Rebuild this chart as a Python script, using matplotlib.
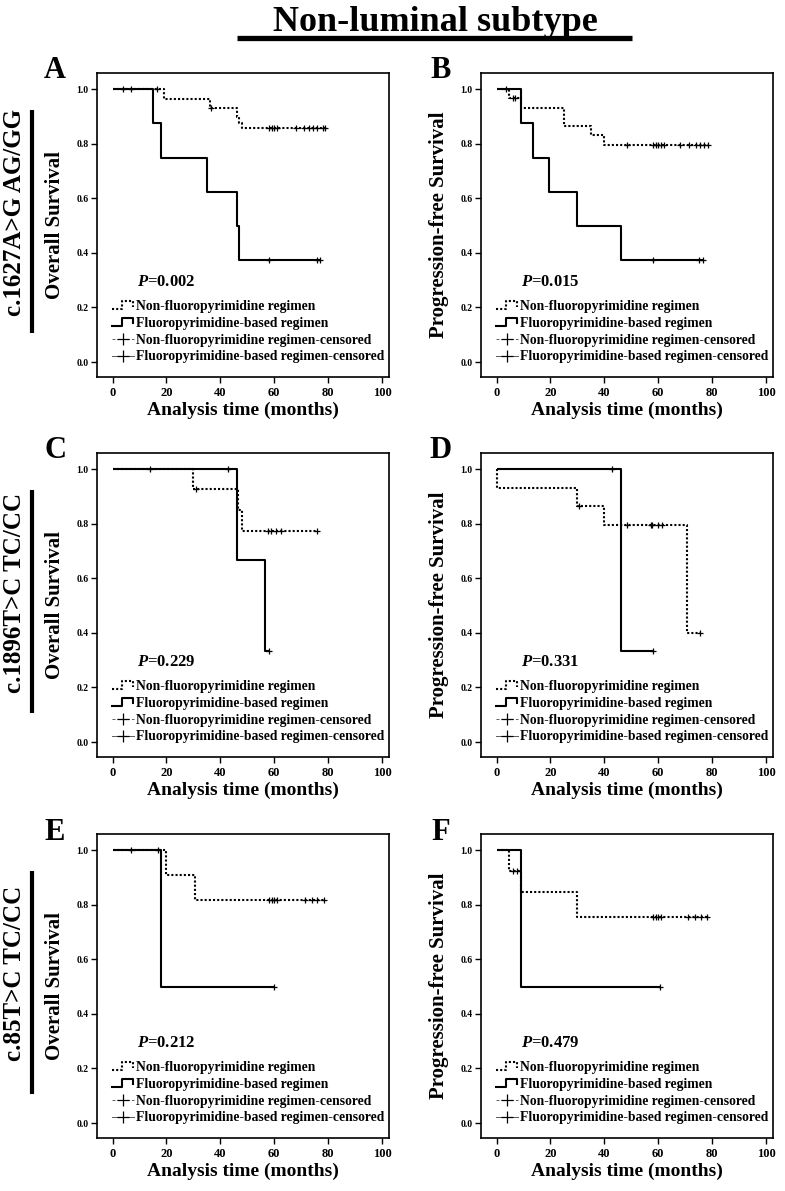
import matplotlib
matplotlib.use('Agg')
import matplotlib.pyplot as plt
from matplotlib.lines import Line2D
from matplotlib.legend_handler import HandlerBase

plt.rcParams['font.family'] = 'Liberation Serif'
plt.rcParams['font.weight'] = 'bold'
plt.rcParams['mathtext.fontset'] = 'custom'
plt.rcParams['mathtext.it'] = 'Liberation Serif:italic:bold'
plt.rcParams['mathtext.rm'] = 'Liberation Serif:bold'

# Textos
title = "Non-luminal subtype"
panel_letters = ["A", "B", "C", "D", "E", "F"]
snp_labels = ["c.1627A>G AG/GG", "c.1896T>C TC/CC", "c.85T>C TC/CC"]
y_labels = ["Overall Survival", "Progression-free Survival"]
x_label = "Analysis time (months)"
p_values = ["0.002", "0.015", "0.229", "0.331", "0.212", "0.479"]
legend_labels = ["Non-fluoropyrimidine regimen",
                 "Fluoropyrimidine-based regimen",
                 "Non-fluoropyrimidine regimen-censored",
                 "Fluoropyrimidine-based regimen-censored"]
x_ticks = [0, 20, 40, 60, 80, 100]
y_ticks = [0.0, 0.2, 0.4, 0.6, 0.8, 1.0]

# Non-fluoropyrimidine (punteada): tiempos de evento, supervivencia, fin, censuras
non_event_t = [
    [19, 36, 46, 47, 48],
    [4.5, 9, 25, 35, 40],
    [30, 46.5, 48],
    [0.3, 30, 40, 70.5],
    [20, 30.5],
    [4.5, 9, 30],
]
non_surv = [
    [0.966, 0.931, 0.897, 0.878, 0.857],
    [0.967, 0.933, 0.867, 0.833, 0.796],
    [0.929, 0.851, 0.774],
    [0.933, 0.867, 0.796, 0.398],
    [0.909, 0.818],
    [0.923, 0.846, 0.755],
]
non_end = [79, 78.5, 75.8, 75.5, 79, 78.5]
non_cens = [
    [16.5, 36.5, 58, 59, 60, 61, 68, 71, 73, 74.4, 76, 78, 79],
    [3.5, 6, 7, 48.5, 58, 59, 60, 61, 62, 68, 71.5, 74, 75.5, 77, 78.5],
    [31, 57.5, 58.8, 60.6, 62.5, 75.8],
    [30.7, 48.5, 57.3, 57.8, 60, 61.5, 75.5],
    [58, 59, 60, 61, 71.5, 74, 76, 78.5],
    [6, 7.5, 58, 59, 60, 61, 71, 73.7, 75.8, 78.2],
]

# Fluoropyrimidine-based (continua)
flu_event_t = [
    [15, 18, 35, 46, 47],
    [9, 13.5, 19.5, 30, 46],
    [46, 56.5],
    [46],
    [18],
    [9],
]
flu_surv = [
    [0.875, 0.75, 0.625, 0.5, 0.375],
    [0.875, 0.75, 0.625, 0.5, 0.375],
    [0.667, 0.333],
    [0.333],
    [0.5],
    [0.5],
]
flu_end = [77, 76.5, 58, 58, 60, 60.5]
flu_cens = [
    [4, 7, 58, 76, 77],
    [58, 75, 76.5],
    [14, 43, 58],
    [43, 58],
    [7, 17, 60],
    [60.5],
]

DOTS = (0, (1, 1))


def surv_at(t, times, surv):
    s = 1.0
    for ti, si in zip(times, surv):
        if ti <= t:
            s = si
    return s


def draw_km(ax, times, surv, end, cens, ls):
    xs = [0] + list(times) + [end]
    ys = [1.0] + list(surv) + [surv[-1]]
    ax.step(xs, ys, where='post', color='black', lw=1.5, linestyle=ls,
            solid_capstyle='butt', dash_capstyle='butt')
    cy = [surv_at(c, times, surv) for c in cens]
    ax.plot(cens, cy, linestyle='none', marker='+', ms=5, mew=0.9, color='black')


class HandlerStep(HandlerBase):
    def create_artists(self, legend, orig_handle, xdescent, ydescent,
                       width, height, fontsize, trans):
        x0, y0 = -xdescent, -ydescent
        xs = [x0, x0 + 0.45 * width, x0 + 0.45 * width, x0 + 0.95 * width, x0 + 0.95 * width]
        ys = [y0 + 0.1 * height, y0 + 0.1 * height, y0 + 0.9 * height, y0 + 0.9 * height, y0 + 0.35 * height]
        ln = Line2D(xs, ys)
        ln.update_from(orig_handle)
        ln.set_transform(trans)
        return [ln]


W, H = 785, 1191
fig = plt.figure(figsize=(W / 100, H / 100), dpi=100)

col_left = [97, 481]
row_top = [73, 453, 834]
aw, ah = 292, 304

# Titulo con subrayado
fig.text(435 / W, 1 - 31 / H, title, ha='center', va='baseline', fontsize=26, fontweight='bold')
fig.add_artist(Line2D([237 / W, 632 / W], [1 - 38 / H, 1 - 38 / H], color='black', lw=3.8,
                      transform=fig.transFigure, solid_capstyle='butt'))

for i in range(6):
    r, c = divmod(i, 2)
    left, top = col_left[c], row_top[r]
    ax = fig.add_axes([left / W, 1 - (top + ah) / H, aw / W, ah / H])

    draw_km(ax, non_event_t[i], non_surv[i], non_end[i], non_cens[i], DOTS)
    draw_km(ax, flu_event_t[i], flu_surv[i], flu_end[i], flu_cens[i], '-')

    ax.set_xlim(-5.8, 102.6)
    ax.set_ylim(-0.055, 1.06)
    ax.set_xticks(x_ticks)
    ax.set_xticklabels([str(v) for v in x_ticks])
    ax.set_yticks(y_ticks)
    ax.set_yticklabels([f"{v:.1f}" for v in y_ticks])
    ax.tick_params(axis='y', direction='out', length=4.5, width=1, labelsize=7, pad=1.5)
    ax.tick_params(axis='x', direction='out', length=4, width=1, labelsize=9, pad=3)
    for sp in ax.spines.values():
        sp.set_linewidth(1.2)

    ax.set_xlabel(x_label, fontsize=14, fontweight='bold')
    ax.xaxis.set_label_coords(0.5, -0.082)
    ax.set_ylabel(y_labels[c], fontsize=15, fontweight='bold')
    ax.yaxis.set_label_coords(-0.11, 0.5)

    ax.text(0.137, 0.3125, r'$P$=' + p_values[i], transform=ax.transAxes,
            fontsize=12, fontweight='bold', va='center', ha='left')

    h_non = Line2D([], [], color='black', lw=1.5, linestyle=DOTS)
    h_flu = Line2D([], [], color='black', lw=1.5, linestyle='-')
    h_non_c = Line2D([], [], color='0.35', lw=0.7, linestyle=(0, (3, 2)),
                     marker='+', ms=8, mew=0.9, mec='black')
    h_flu_c = Line2D([], [], color='0.35', lw=0.7, linestyle='-',
                     marker='+', ms=8, mew=0.9, mec='black')
    ax.legend([h_non, h_flu, h_non_c, h_flu_c], legend_labels,
              handler_map={h_non: HandlerStep(), h_flu: HandlerStep()},
              loc='lower left', bbox_to_anchor=(0.051, 0.045), frameon=False,
              borderpad=0, borderaxespad=0, handlelength=1.6, handletextpad=0.2,
              labelspacing=0.28, prop={'family': 'Liberation Serif', 'weight': 'bold', 'size': 9.8})

    # Letra del panel
    lx = 55 if c == 0 else 441
    fig.text(lx / W, 1 - (top - 2) / H, panel_letters[i], ha='center', va='center',
             fontsize=22, fontweight='bold')

    if c == 0:
        bar_top, bar_bot = top + 37, top + 260
        fig.add_artist(Line2D([32 / W, 32 / W], [1 - bar_top / H, 1 - bar_bot / H],
                              color='black', lw=3, transform=fig.transFigure,
                              solid_capstyle='butt'))
        fig.text(15 / W, 1 - ((bar_top + bar_bot) / 2 - 9) / H, snp_labels[r],
                 rotation=90, ha='center', va='center', fontsize=18, fontweight='bold')

fig.savefig('out.png', dpi=100)
